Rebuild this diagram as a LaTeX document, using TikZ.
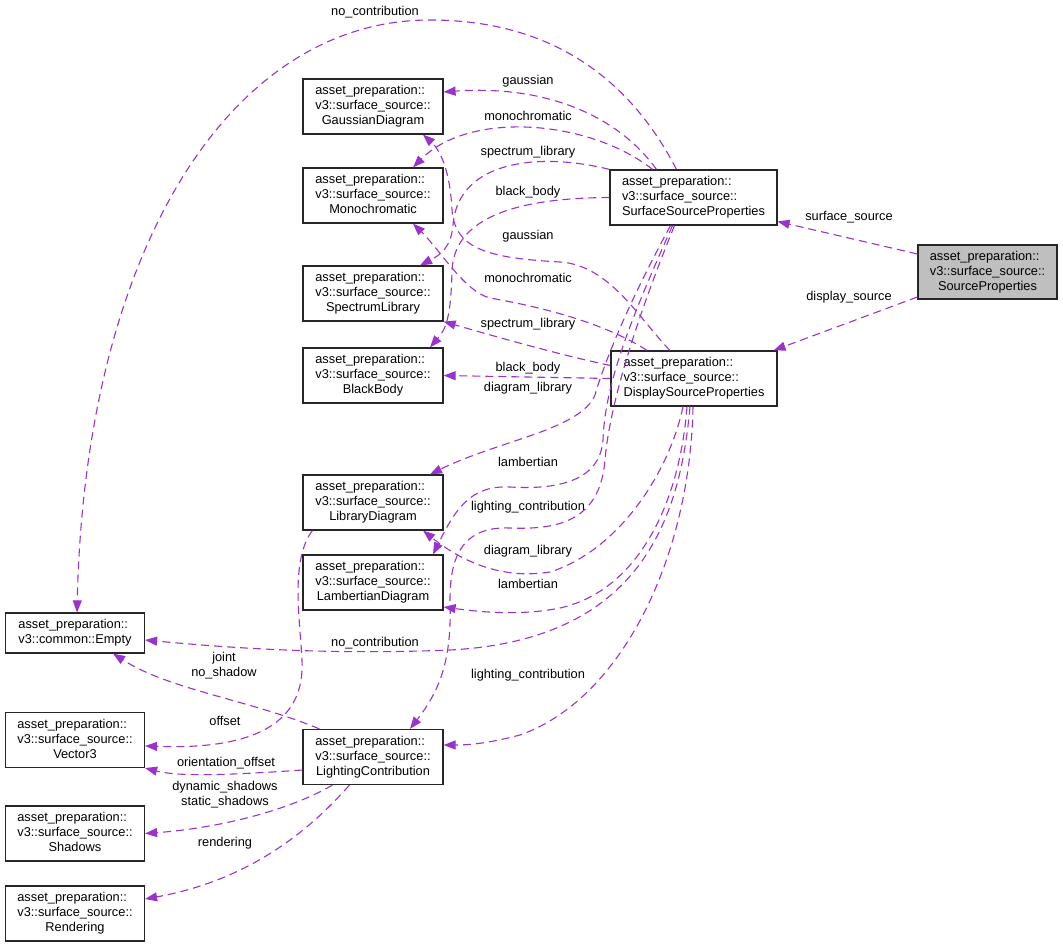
\documentclass[tikz,border=0pt]{standalone}
\usepackage{fontspec}
\setmainfont{Liberation Sans}
\usetikzlibrary{arrows.meta,calc}
\definecolor{edgec}{HTML}{9A32CD}
\definecolor{boxgray}{HTML}{BFBFBF}
\newcommand{\clsthree}[3]{\begin{tabular}{@{}l@{}}#1\\#2\\\multicolumn{1}{@{}c@{}}{#3}\end{tabular}}
\newcommand{\clstwo}[2]{\begin{tabular}{@{}l@{}}#1\\\multicolumn{1}{@{}c@{}}{#2}\end{tabular}}
\begin{document}
\begin{tikzpicture}[x=1pt,y=-1pt,
  cbox/.style={draw=black!85, line width=1.2pt, fill=white, inner sep=0pt, minimum width=140pt, minimum height=55pt, font=\fontsize{12.8}{15}\selectfont, align=center},
  rel/.style={draw=edgec, line width=1.1pt, dash pattern=on 8pt off 5pt, -{Triangle[length=12pt,width=9pt,fill=edgec]}},
  lab/.style={font=\fontsize{12.8}{15}\selectfont, inner sep=0pt, align=center}]
\fill[white] (0,0) rectangle (1063,947);
\useasboundingbox (0,0) rectangle (1063,947);
% nodes
\node[cbox] (gd) at (373,106.5) {\clsthree{asset\_preparation::}{v3::surface\_source::}{GaussianDiagram}};
\node[cbox] (mc) at (373,195.5) {\clsthree{asset\_preparation::}{v3::surface\_source::}{Monochromatic}};
\node[cbox] (sl) at (373,293.5) {\clsthree{asset\_preparation::}{v3::surface\_source::}{SpectrumLibrary}};
\node[cbox] (bb) at (373,375.5) {\clsthree{asset\_preparation::}{v3::surface\_source::}{BlackBody}};
\node[cbox] (ld) at (373,502.5) {\clsthree{asset\_preparation::}{v3::surface\_source::}{LibraryDiagram}};
\node[cbox] (lm) at (373,582.5) {\clsthree{asset\_preparation::}{v3::surface\_source::}{LambertianDiagram}};
\node[cbox] (lc) at (373,757) {\clsthree{asset\_preparation::}{v3::surface\_source::}{LightingContribution}};
\node[cbox, minimum width=139pt, minimum height=40pt] (em) at (75,633) {\clstwo{asset\_preparation::}{v3::common::Empty}};
\node[cbox, minimum width=139pt] (v3) at (75,740) {\clsthree{asset\_preparation::}{v3::surface\_source::}{Vector3}};
\node[cbox, minimum width=139pt] (sh) at (75,833.5) {\clsthree{asset\_preparation::}{v3::surface\_source::}{Shadows}};
\node[cbox, minimum width=139pt] (re) at (75,913.5) {\clsthree{asset\_preparation::}{v3::surface\_source::}{Rendering}};
\node[cbox, minimum width=167pt] (ssp) at (693.5,197.5) {\clsthree{asset\_preparation::}{v3::surface\_source::}{SurfaceSourceProperties}};
\node[cbox, minimum width=166pt] (dsp) at (694,378.5) {\clsthree{asset\_preparation::}{v3::surface\_source::}{DisplaySourceProperties}};
\node[cbox, minimum width=139pt, minimum height=54pt, fill=boxgray] (sp) at (987.5,272) {\clsthree{asset\_preparation::}{v3::surface\_source::}{SourceProperties}};
% edges from SourceProperties
\draw[rel] ([yshift=18pt]sp.west) -- ([yshift=-24pt]ssp.east);
\draw[rel] ([yshift=-25pt]sp.west) -- ([xshift=-4pt]dsp.north east);
% edges from SurfaceSourceProperties
\draw[rel] ([xshift=-37pt]ssp.north) .. controls (615,112) and (540,85) .. ([yshift=14.5pt]gd.east);
\draw[rel] ([xshift=-41pt]ssp.north) .. controls (590,120) and (470,110) .. ([xshift=40pt]mc.north);
\draw[rel] (ssp.north west) .. controls (540,152) and (458,160) .. (453,225) .. controls (451,248) and (440,255) .. ([xshift=47pt]sl.north);
\draw[rel] (ssp.west) .. controls (530,198) and (455,212) .. (452,270) .. controls (451,320) and (445,330) .. ([xshift=57pt]bb.north);
\draw[rel] ([xshift=-17pt]ssp.north) .. controls (620,60) and (530,20) .. (430,20) .. controls (230,20) and (85,250) .. ([xshift=2pt]em.north);
\draw[rel] ([xshift=-23pt]ssp.south) .. controls (630,300) and (605,360) .. (595,395) .. controls (580,430) and (500,440) .. ([xshift=57pt]ld.north);
\draw[rel] ([xshift=-21pt]ssp.south) .. controls (635,310) and (605,380) .. (603,440) .. controls (600,480) and (560,490) .. (510,487) .. controls (470,485) and (455,510) .. ([xshift=60pt]lm.north);
\draw[rel] ([xshift=-19pt]ssp.south) .. controls (640,310) and (610,400) .. (605,460) .. controls (600,520) and (560,530) .. (510,528) .. controls (460,526) and (450,560) .. (450,600) .. controls (452,660) and (440,690) .. ([xshift=37pt]lc.north);
% edges from DisplaySourceProperties
\draw[rel] ([xshift=-24pt]dsp.north) .. controls (640,320) and (610,265) .. (560,262) .. controls (490,258) and (455,250) .. (452,210) .. controls (450,170) and (440,150) .. ([xshift=50pt]gd.south);
\draw[rel] ([xshift=-47pt]dsp.north) .. controls (600,320) and (530,305) .. (490,298) .. controls (465,292) and (440,250) .. ([xshift=40pt]mc.south);
\draw[rel] ([yshift=13pt]dsp.west) .. controls (560,355) and (490,335) .. (sl.south east);
\draw[rel] (dsp.west) -- (bb.east);
\draw[rel] ([xshift=-11pt]dsp.south) .. controls (670,470) and (620,550) .. (550,572) .. controls (500,580) and (460,560) .. ([xshift=50pt]ld.south);
\draw[rel] ([xshift=-7pt]dsp.south) .. controls (680,500) and (640,590) .. (560,608) .. controls (520,616) and (480,612) .. ([yshift=-24.5pt]lm.east);
\draw[rel] ([xshift=-4pt]dsp.south) .. controls (680,520) and (640,640) .. (450,650) .. controls (330,655) and (230,648) .. ([yshift=-7pt]em.east);
\draw[rel] ([xshift=-1pt]dsp.south) .. controls (690,560) and (620,700) .. (520,735) .. controls (490,743) and (470,745) .. ([yshift=12pt]lc.east);
% other edges
\draw[rel] ([xshift=10pt]ld.south west) .. controls (290,560) and (300,620) .. (302,660) .. controls (305,720) and (260,750) .. ([yshift=-6pt]v3.east);
\draw[rel] ([xshift=17pt]lc.north west) .. controls (250,700) and (170,690) .. ([xshift=38pt]em.south);
\draw[rel] ([yshift=-13pt]lc.west) .. controls (230,775) and (180,777) .. (v3.south east);
\draw[rel] ([xshift=30pt]lc.south west) .. controls (290,810) and (220,828) .. (sh.east);
\draw[rel] ([xshift=47pt]lc.south west) .. controls (310,830) and (250,880) .. ([yshift=14.5pt]re.east);
% labels
\node[lab] (l1) at (375,12) {no\_contribution};
\node[lab] (l2) at (528,81) {gaussian};
\node[lab] (l3) at (528,116) {monochromatic};
\node[lab] (l4) at (528,152) {spectrum\_library};
\node[lab] (l5) at (528,192) {black\_body};
\node[lab] (l6) at (528,236) {gaussian};
\node[lab] (l7) at (528,278) {monochromatic};
\node[lab] (l8) at (528,324) {spectrum\_library};
\node[lab] (l9) at (528,368) {black\_body};
\node[lab] (l10) at (528,388) {diagram\_library};
\node[lab] (l11) at (528,462) {lambertian};
\node[lab] (l12) at (528,507) {lighting\_contribution};
\node[lab] (l13) at (528,551) {diagram\_library};
\node[lab] (l14) at (528,584) {lambertian};
\node[lab] (l15) at (375,643) {no\_contribution};
\node[lab] (l16) at (224,665.5) {joint\\no\_shadow};
\node[lab] (l17) at (528,675) {lighting\_contribution};
\node[lab] (l18) at (225,721) {offset};
\node[lab] (l19) at (226,763) {orientation\_offset};
\node[lab] (l20) at (225,795) {dynamic\_shadows\\static\_shadows};
\node[lab] (l21) at (225,843) {rendering};
\node[lab] (l22) at (849,217) {surface\_source};
\node[lab] (l23) at (849,297) {display\_source};
\end{tikzpicture}
\end{document}
